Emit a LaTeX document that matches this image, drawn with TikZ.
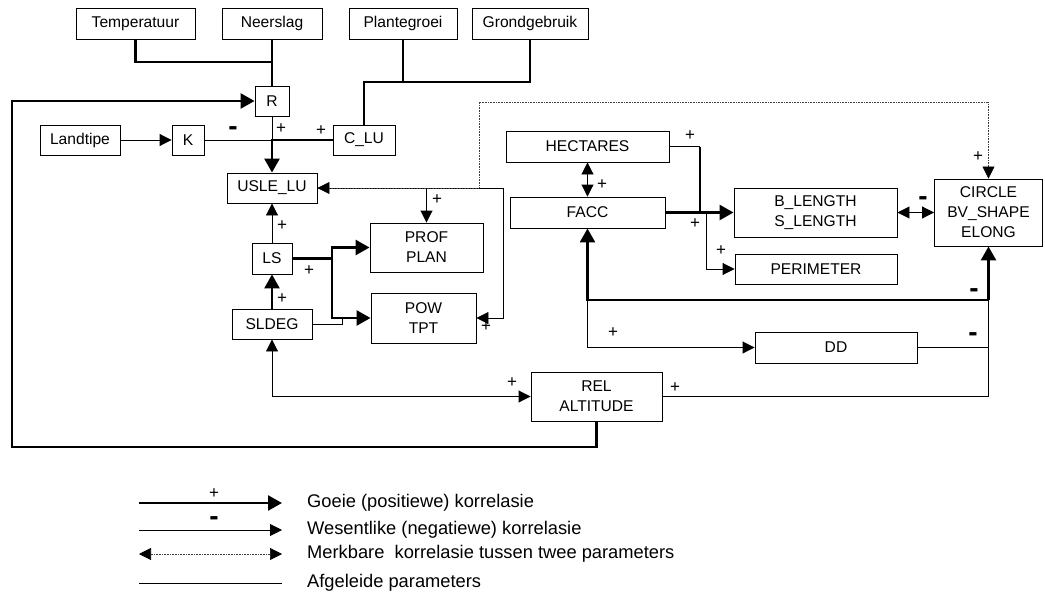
\documentclass[tikz,border=0pt]{standalone}
\usepackage{fontspec}
\setmainfont{Liberation Sans}
\usetikzlibrary{arrows.meta}
\usetikzlibrary{calc}

\begin{document}
\begin{tikzpicture}[x=1pt,y=-1pt,
  every node/.style={font=\fontsize{15.6}{20}\selectfont},
  box/.style={draw, line width=0.9pt, align=center, inner sep=0pt},
  thickln/.style={line width=2.6pt, >={Triangle[length=14pt,width=15pt]}},
  thinln/.style={line width=0.9pt, >={Triangle[length=12pt,width=12pt]}},
  dotln/.style={line width=0.7pt, black!75, dash pattern=on 0.7pt off 0.9pt,
    >={Triangle[length=12pt,width=12pt,color=black]}},
  pl/.style={inner sep=0pt, font=\fontsize{17}{17}\selectfont},
  mn/.style={inner sep=0pt, font=\fontsize{28}{28}\selectfont\bfseries},
  legtext/.style={anchor=west, inner sep=0pt, font=\fontsize{18.3}{20}\selectfont}]
\useasboundingbox (0,0) rectangle (1045,594);

% input parameters
\node[box, minimum width=119, minimum height=31] (temp) at (135.5,23.5) {Temperatuur};
\node[box, minimum width=100, minimum height=31] (neer) at (272,23.5) {Neerslag};
\node[box, minimum width=108, minimum height=31] (plant) at (403,23.5) {Plantegroei};
\node[box, minimum width=116, minimum height=31] (grond) at (530,23.5) {Grondgebruik};
\node[box, minimum width=80, minimum height=30] (land) at (80,140) {Landtipe};

% USLE factors
\node[box, minimum width=34, minimum height=30] (R) at (272,101) {R};
\node[box, minimum width=32, minimum height=30] (K) at (188,140) {K};
\node[box, minimum width=62, minimum height=30] (clu) at (364,140) {C\_LU};
\node[box, minimum width=90, minimum height=30] (usle) at (272,188) {USLE\_LU};
\node[box, minimum width=40, minimum height=31] (ls) at (272,258.5) {LS};
\node[box, minimum width=80, minimum height=30] (sldeg) at (272,324) {SLDEG};
\node[box, minimum width=113, minimum height=49] (prof) at (426.5,247.5) {PROF\\PLAN};
\node[box, minimum width=105, minimum height=50] (pow) at (423.5,318) {POW\\TPT};

% catchment parameters
\node[box, minimum width=163, minimum height=31] (hect) at (587.5,146.5) {HECTARES};
\node[box, minimum width=155, minimum height=31] (facc) at (587.5,212.5) {FACC};
\node[box, minimum width=163, minimum height=49] (blen) at (815.5,212.5) {B\_LENGTH\\S\_LENGTH};
\node[box, minimum width=162, minimum height=30] (perim) at (816,269) {PERIMETER};
\node[box, minimum width=108, minimum height=67] (circ) at (988.5,212.5) {CIRCLE\\BV\_SHAPE\\ELONG};
\node[box, minimum width=162, minimum height=31] (dd) at (836,347.5) {DD};
\node[box, minimum width=131, minimum height=49] (rel) at (596.5,396.5) {REL\\ALTITUDE};

\coordinate (rj) at (272,62);
\coordinate (cj) at (364,82);
\coordinate (kj) at (272,140);
\coordinate (fb) at (12,447);
\coordinate (lsj) at (332,258.5);
\coordinate (hj) at (700,146.5);
\coordinate (sj) at (988.5,300);

% R, K and C_LU into USLE_LU
\draw[thickln] (temp.south) |- (rj);
\draw[thickln] (neer.south) -- (R.north);
\draw[thickln] (plant.south) -- (plant.south |- cj);
\draw[thickln] (grond.south) |- (cj) -- (clu.north);
\draw[thickln,->] (rel.south) |- (fb) |- (R.west);
\draw[thinln,->] (land) -- (K);
\draw[thinln] (K.east) -- (kj);
\draw[thinln] (R.south) -- (kj);
\draw[thickln,->] (clu.west) -- (kj) -- (usle.north);

% slope
\draw[thinln,->] (ls) -- (usle);
\draw[thickln,->] (sldeg) -- (ls);
\draw[thickln,->] (ls.east) -- (lsj) |- (prof.west);
\draw[thickln,->] (lsj) |- (pow.west);
\draw[thinln] (sldeg.east) -| (342,318);
\draw[thinln,->] (usle.east) -- (503,188) |- (pow.east);
\draw[thinln,->] (prof.north |- usle.east) -- (prof.north);
\draw[dotln,<->] (usle.east) -- (479,188) |- (circ.north |- 0,102) -- (circ.north);

% area and shape
\draw[thinln,<->] (hect.south) -- (facc.north);
\draw[line width=1.6pt] (hect.east) -- (hj);
\draw[thickln] (hj) -- (hj |- facc.east);
\draw[thickln,->] (facc.east) -- (blen.west);
\draw[thinln,->] (706,212.5) |- (perim.west);
\draw[thinln,<->] (blen.east) -- (circ.west);
\draw[thickln,->] (sj) -| (facc.south);
\draw[thickln,->] (sj) -- (circ.south);
\draw[thinln] (rel.east) -| (sj);
\draw[thinln] (dd.east) -- (dd.east -| sj);
\draw[thinln,->] (facc.south |- sj) |- (dd.west);
\draw[thinln,<->] (sldeg.south) |- (rel.west);

% signs
\foreach \p [count=\i] in {(281,129),(321,131),(282,226),(282,299),(309,271),(437,200),
    (486,327),(690,136),(602,185),(695,224),(721,251),(978,157),(613,333),(512,383),(675,388)}
  \node[pl] (plus\i) at \p {+};
\foreach \p [count=\i] in {(233,131),(923,201),(974,293),(973,337)}
  \node[mn] (min\i) at \p {-};

% legend
\foreach \y/\txt [count=\i] in {503/{Goeie (positiewe) korrelasie},
    530/{Wesentlike (negatiewe) korrelasie},
    554/{Merkbare\ \ korrelasie tussen twee parameters},
    583/{Afgeleide parameters}} {
  \coordinate (la\i) at (139,\y);
  \coordinate (lb\i) at (282,\y);
  \node[legtext] (leg\i) at (307,\y) {\txt};
}
\draw[thickln,->] (la1) -- (lb1);
\draw[thinln,->] (la2) -- (lb2);
\draw[dotln,<->] (la3) -- (lb3);
\draw[thinln] (la4) -- (lb4);
\node[pl] (plus0) at (214,494) {+};
\node[mn] (min0) at (214,521) {-};
\end{tikzpicture}
\end{document}
